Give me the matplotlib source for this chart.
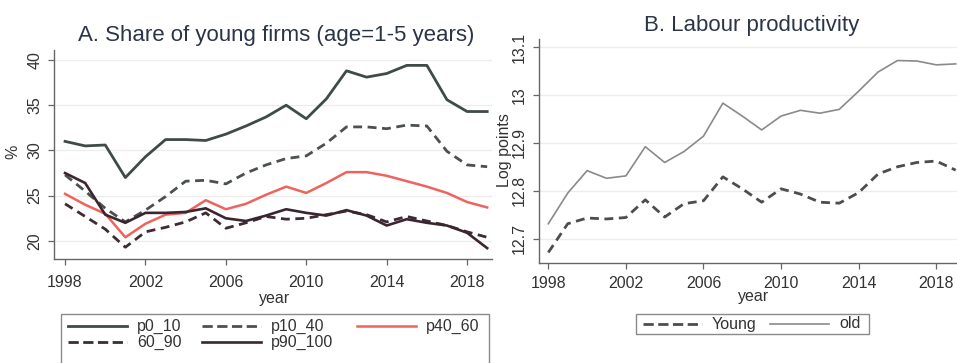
import matplotlib
matplotlib.use("Agg")
import matplotlib.pyplot as plt
from matplotlib.patches import Rectangle

plt.rcParams["font.family"] = ["Liberation Sans", "DejaVu Sans"]

years = list(range(1998, 2020))

# Panel A: share of young firms (%), by productivity percentile group
p0_10 = [31.0, 30.5, 30.6, 27.0, 29.3, 31.2, 31.2, 31.1, 31.8, 32.7, 33.7,
         35.0, 33.5, 35.7, 38.8, 38.1, 38.5, 39.4, 39.4, 35.6, 34.3, 34.3]
p10_40 = [27.3, 25.5, 23.6, 22.1, 23.4, 24.9, 26.6, 26.7, 26.3, 27.5, 28.4,
          29.1, 29.4, 30.8, 32.6, 32.6, 32.4, 32.8, 32.7, 29.9, 28.4, 28.2]
p40_60 = [25.2, 24.0, 23.0, 20.4, 21.9, 22.9, 23.1, 24.5, 23.5, 24.1, 25.1,
          26.0, 25.3, 26.4, 27.6, 27.6, 27.2, 26.6, 26.0, 25.3, 24.3, 23.7]
p60_90 = [24.1, 22.7, 21.3, 19.3, 21.0, 21.5, 22.1, 23.1, 21.4, 22.0, 22.7,
          22.4, 22.5, 22.9, 23.3, 22.9, 22.1, 22.7, 22.2, 21.7, 21.0, 20.4]
p90_100 = [27.5, 26.4, 22.9, 22.0, 23.1, 23.1, 23.2, 23.6, 22.5, 22.2, 22.8,
           23.5, 23.1, 22.8, 23.4, 22.8, 21.7, 22.4, 22.0, 21.7, 20.9, 19.2]

# Panel B: labour productivity (log points)
young = [12.671, 12.731, 12.743, 12.741, 12.744, 12.781, 12.745, 12.773,
         12.779, 12.829, 12.804, 12.776, 12.804, 12.793, 12.776, 12.774,
         12.796, 12.835, 12.850, 12.859, 12.862, 12.843]
old = [12.731, 12.795, 12.842, 12.826, 12.831, 12.892, 12.859, 12.882,
       12.914, 12.983, 12.956, 12.927, 12.956, 12.968, 12.962, 12.970,
       13.008, 13.048, 13.072, 13.071, 13.063, 13.065]

xticks = [1998, 2002, 2006, 2010, 2014, 2018]
yticks_a = [20, 25, 30, 35, 40]
yticklabels_a = ["20", "25", "30", "35", "40"]
yticks_b = [12.7, 12.8, 12.9, 13.0, 13.1]
yticklabels_b = ["12.7", "12.8", "12.9", "13", "13.1"]

TITLE_C = "#2c3547"
TEXT_C = "#333333"
SPINE_C = "#666666"
BOX_C = "#8a8a8a"
DASH = (0, (3.2, 2.0))
FS = 11.5

fig = plt.figure(figsize=(9.57, 3.63), dpi=100)
W, H = 957, 363


def px_axes(x0, y0, x1, y1):
    return fig.add_axes([x0 / W, 1 - y1 / H, (x1 - x0) / W, (y1 - y0) / H])


def ftext(x, y, s, **kw):
    # text placed in figure pixel coordinates (origin top-left)
    kw.setdefault("fontsize", FS)
    kw.setdefault("color", TEXT_C)
    kw.setdefault("ha", "center")
    kw.setdefault("va", "center")
    return fig.text(x / W, 1 - y / H, s, **kw)


def style(ax, yticks, ylabels, xpad, ypad):
    for side in ("top", "right"):
        ax.spines[side].set_visible(False)
    for side in ("left", "bottom"):
        ax.spines[side].set_color(SPINE_C)
        ax.spines[side].set_linewidth(1.0)
    ax.grid(axis="y", color="#ececec", linewidth=0.9)
    ax.set_axisbelow(True)
    ax.set_xticks(xticks)
    ax.set_yticks(yticks)
    ax.set_yticklabels(ylabels, rotation=90, va="center")
    ax.tick_params(colors=SPINE_C, labelcolor=TEXT_C, labelsize=FS,
                   length=4.5, width=0.9)
    ax.tick_params(axis="x", pad=xpad)
    ax.tick_params(axis="y", pad=ypad)


def legend_row(x, y, handle, label):
    # one legend key: a short sample of the line and its label
    line = plt.Line2D([x / W, (x + 59) / W], [1 - y / H, 1 - y / H],
                      transform=fig.transFigure, color=handle.get_color(),
                      lw=handle.get_linewidth(), ls=handle.get_linestyle())
    fig.lines.append(line)
    ftext(x + 69, y, label, ha="left")


def box(x0, y0, x1, y1):
    fig.patches.append(Rectangle((x0 / W, 1 - y1 / H), (x1 - x0) / W,
                                 (y1 - y0) / H, transform=fig.transFigure,
                                 fill=False, edgecolor=BOX_C, lw=1.0))


# ---- Panel A
axa = px_axes(54, 50, 492, 259)
axa.set_xlim(1997.45, 2019.24)
axa.set_ylim(18.0, 41.1)
la1, = axa.plot(years, p0_10, color="#3e4b46", lw=2.0)
la2, = axa.plot(years, p10_40, color="#4b5050", lw=2.0, ls=DASH)
la3, = axa.plot(years, p40_60, color="#f0625d", lw=1.8)
la4, = axa.plot(years, p60_90, color="#3e2b35", lw=2.0, ls=DASH)
la5, = axa.plot(years, p90_100, color="#3a2630", lw=1.9)
style(axa, yticks_a, yticklabels_a, xpad=7, ypad=4)
ftext(276, 35, "A. Share of young firms (age=1-5 years)", fontsize=16,
      color=TITLE_C)
ftext(275, 298, "year")
ftext(13, 152, "%", rotation=90)

# ---- Panel B
axb = px_axes(539, 39, 957, 263)
axb.set_xlim(1997.52, 2019.07)
axb.set_ylim(12.649, 13.117)
lb1, = axb.plot(years, young, color="#4d4d4d", lw=2.0, ls=DASH)
lb2, = axb.plot(years, old, color="#8a8a8a", lw=1.2)
style(axb, yticks_b, yticklabels_b, xpad=5, ypad=4)
ftext(752, 25, "B. Labour productivity", fontsize=16, color=TITLE_C)
ftext(754, 297, "year")
ftext(505, 150, "Log points", rotation=90)

# ---- Legends
box(61, 314, 489, 380)
legend_row(68, 326, la1, "p0_10")
legend_row(202, 326, la2, "p10_40")
legend_row(357, 326, la3, "p40_60")
legend_row(68, 342, la4, "60_90")
legend_row(202, 342, la5, "p90_100")

box(636, 314, 869, 334)
legend_row(643, 324, lb1, "Young")
legend_row(770, 324, lb2, "old")

fig.savefig("out.png", dpi=100, facecolor="white")
